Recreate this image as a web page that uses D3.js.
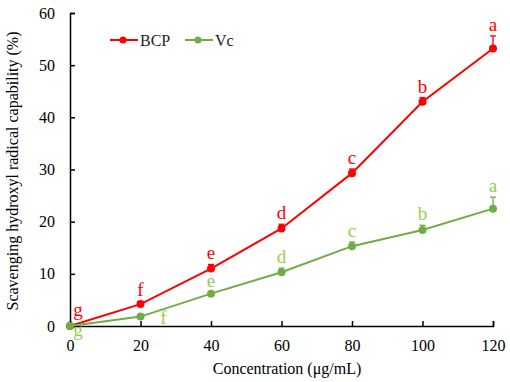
<!DOCTYPE html>
<html>
<head>
<meta charset="utf-8">
<script src="https://cdn.jsdelivr.net/npm/d3@7"></script>
<style>
  body { margin: 0; background: #fff; }
</style>
</head>
<body>
<svg id="chart"></svg>
<script>
// Data
const concentrations = [0, 20, 40, 60, 80, 100, 120];
const bcpValues = [0, 4.2, 11.0, 18.7, 29.3, 43.0, 53.2];
const bcpErrors = [0, 0.5, 0.8, 0.8, 0.8, 0.8, 2.4];
const bcpLetters = ['g', 'f', 'e', 'd', 'c', 'b', 'a'];
const vcValues = [0, 1.8, 6.2, 10.3, 15.3, 18.4, 22.5];
const vcErrors = [0, 0.3, 0.4, 0.8, 0.8, 0.9, 2.2];
const vcLetters = ['g', 'f', 'e', 'd', 'c', 'b', 'a'];
const yTicks = [0, 10, 20, 30, 40, 50, 60];

const FONT = '"Liberation Serif", "Times New Roman", "DejaVu Serif", serif';

const width = 510, height = 382;
const margin = { top: 13, right: 17, bottom: 56, left: 70 };

const svg = d3.select('#chart')
    .attr('width', width)
    .attr('height', height)
    .attr('font-family', FONT);

const innerW = width - margin.left - margin.right;
const innerH = height - margin.top - margin.bottom;

const chart = svg.append('g')
    .attr('transform', `translate(${margin.left},${margin.top})`);

const xScale = d3.scaleLinear().domain([0, 120]).range([0, innerW]);
const yScale = d3.scaleLinear().domain([0, 60]).range([innerH, 0]);

// Axes, ticks pointing into the plot
const xAxis = d3.axisBottom(xScale).tickValues(concentrations).tickSize(-5).tickPadding(11);
const yAxis = d3.axisLeft(yScale).tickValues(yTicks).tickSize(-5).tickPadding(15);

const xAxisG = chart.append('g')
    .attr('transform', `translate(0,${innerH})`)
    .call(xAxis);
const yAxisG = chart.append('g').call(yAxis);

[xAxisG, yAxisG].forEach(g => {
    g.attr('font-family', FONT).attr('font-size', 16);
    g.select('.domain').attr('stroke', '#000').attr('stroke-width', 1.5);
    g.selectAll('.tick line').attr('stroke', '#000').attr('stroke-width', 1.5);
    g.selectAll('.tick text').attr('fill', '#000');
});
xAxisG.selectAll('.tick text').attr('dy', '0.85em');

// Axis titles
svg.append('text')
    .attr('x', 287)
    .attr('y', 374)
    .attr('text-anchor', 'middle')
    .attr('font-size', 16)
    .text('Concentration (μg/mL)');

svg.append('text')
    .attr('transform', `translate(18,171) rotate(-90)`)
    .attr('text-anchor', 'middle')
    .attr('font-size', 16)
    .text('Scavenging hydroxyl radical capability (%)');

const series = [
    { name: 'BCP', values: bcpValues, errors: bcpErrors, letters: bcpLetters, color: '#FF0000', letterColor: '#FF0000' },
    { name: 'Vc', values: vcValues, errors: vcErrors, letters: vcLetters, color: '#70AD47', letterColor: '#92D050' }
];

const line = d3.line()
    .x(d => xScale(d.x))
    .y(d => yScale(d.y));

for (const s of series) {
    const pts = concentrations.map((c, i) => ({ x: c, y: s.values[i], e: s.errors[i], l: s.letters[i] }));

    chart.append('path')
        .datum(pts)
        .attr('fill', 'none')
        .attr('stroke', s.color)
        .attr('stroke-width', 2)
        .attr('d', line);

    // error bars (upper only)
    const eb = chart.append('g').selectAll('g').data(pts.filter(d => d.e > 0)).join('g');
    eb.append('line')
        .attr('x1', d => xScale(d.x)).attr('x2', d => xScale(d.x))
        .attr('y1', d => yScale(d.y)).attr('y2', d => yScale(d.y + d.e))
        .attr('stroke', s.color).attr('stroke-width', 1.3);
    eb.append('line')
        .attr('x1', d => xScale(d.x) - 3).attr('x2', d => xScale(d.x) + 3)
        .attr('y1', d => yScale(d.y + d.e)).attr('y2', d => yScale(d.y + d.e))
        .attr('stroke', s.color).attr('stroke-width', 1.3);

    chart.append('g').selectAll('circle').data(pts).join('circle')
        .attr('cx', d => xScale(d.x))
        .attr('cy', d => yScale(d.y))
        .attr('r', 4)
        .attr('fill', s.color);

    // significance letters
    chart.append('g').selectAll('text').data(pts).join('text')
        .attr('x', (d, i) => {
            if (i === 0) return xScale(d.x) + 8;
            if (s.name === 'Vc' && i === 1) return xScale(d.x) + 23;
            return xScale(d.x);
        })
        .attr('y', (d, i) => {
            if (i === 0) return s.name === 'BCP' ? yScale(d.y) - 10 : yScale(d.y) + 10;
            if (s.name === 'Vc' && i === 1) return yScale(d.y) + 7;
            return yScale(d.y + d.e) - 5;
        })
        .attr('text-anchor', 'middle')
        .attr('fill', s.letterColor)
        .attr('font-size', 19)
        .text(d => d.l);
}

// Legend
const legend = svg.append('g');
const legendItems = [
    { name: 'BCP', color: '#FF0000', x: 110 },
    { name: 'Vc', color: '#70AD47', x: 185 }
];
for (const item of legendItems) {
    legend.append('line')
        .attr('x1', item.x).attr('x2', item.x + 28)
        .attr('y1', 40).attr('y2', 40)
        .attr('stroke', item.color).attr('stroke-width', 2);
    legend.append('circle')
        .attr('cx', item.x + 13).attr('cy', 40).attr('r', 3.5)
        .attr('fill', item.color);
    legend.append('text')
        .attr('x', item.x + 30).attr('y', 46)
        .attr('font-size', 16)
        .attr('fill', '#222')
        .text(item.name);
}
</script>
</body>
</html>
